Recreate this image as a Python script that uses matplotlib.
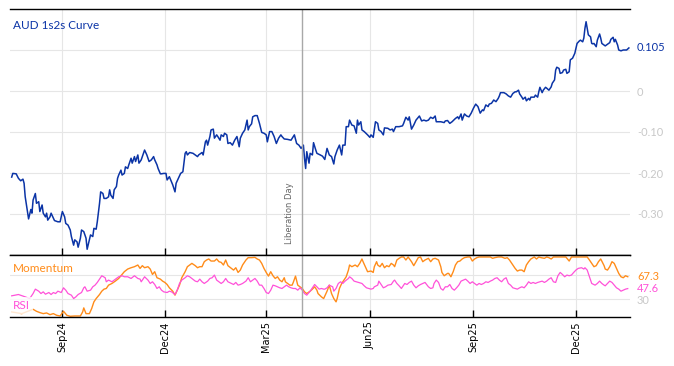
import numpy as np
import pandas as pd
import matplotlib.pyplot as plt
import matplotlib.dates as mdates
import matplotlib.transforms as mtransforms

# all series: day offsets from 2024-07-18 and values
start = pd.Timestamp('2024-07-18')
liberation_day = pd.Timestamp('2025-04-02')

curve_day = [0,1,4,6,8,10,11,12,14,15,17,18,19,21,22,24,25,27,28,30,31,32,34,35,37,38,41,43,45,47,
             48,50,52,53,55,56,58,59,61,62,64,66,67,69,70,72,73,75,76,78,79,81,82,84,86,87,88,90,91,93,
             94,95,97,98,100,101,103,104,106,107,109,110,112,113,115,117,118,120,122,124,126,127,129,130,132,133,135,137,138,140,
             143,145,146,148,150,152,154,155,156,158,161,163,165,166,169,170,172,173,174,176,
             177,179,180,182,183,185,186,188,189,191,192,194,196,198,200,202,203,205,207,209,
             210,211,213,214,216,218,220,222,224,226,227,229,231,233,235,237,239,240,242,245,
             248,251,253,255,257,259,260,261,262,264,265,267,268,270,271,274,276,278,
             280,281,282,284,286,287,289,291,293,294,296,297,299,300,302,304,306,307,308,310,
             311,313,316,318,319,321,323,325,326,328,330,331,334,336,338,339,341,342,344,347,
             348,350,352,353,355,357,359,362,364,366,368,370,372,374,376,377,379,381,384,385,
             387,389,391,394,396,397,399,400,402,404,406,408,410,412,414,415,
             416,418,419,421,423,424,426,428,430,432,433,434,437,439,441,443,445,447,448,450,
             451,453,454,456,457,459,460,461,464,465,467,468,469,471,472,474,475,477,479,480,
             482,483,484,486,487,489,490,492,493,495,496,498,500,501,502,504,505,507,508,509,
             510,511,512,514,515,516,517,519,520,522,523,524,527,528,529,531,532,534,535,536,
             538,539,541,543,546,548]
curve_val = [-0.210,-0.201,-0.202,-0.213,-0.219,-0.215,-0.225,-0.258,-0.294,-0.312,
             -0.289,-0.298,-0.266,-0.250,-0.274,-0.270,-0.294,-0.278,-0.298,-0.307,
             -0.298,-0.315,-0.307,-0.298,-0.310,-0.316,-0.319,-0.319,-0.294,-0.307,
             -0.323,-0.327,-0.339,-0.355,-0.376,-0.363,-0.368,-0.381,-0.359,-0.339,
             -0.343,-0.359,-0.386,-0.363,-0.351,-0.355,-0.335,-0.337,-0.319,-0.274,
             -0.246,-0.250,-0.262,-0.262,-0.258,-0.241,-0.254,-0.262,-0.241,-0.233,
             -0.213,-0.205,-0.193,-0.205,-0.201,-0.185,-0.189,-0.180,-0.164,-0.176,
             -0.160,-0.172,-0.156,-0.176,-0.168,-0.152,-0.144,-0.156,-0.172,-0.168,
             -0.160,-0.168,-0.180,-0.189,-0.202,-0.202,-0.201,-0.201,-0.217,-0.209,
             -0.229,-0.246,-0.225,-0.213,-0.201,-0.197,-0.152,-0.148,-0.156,-0.150,
             -0.152,-0.156,-0.160,-0.156,-0.150,-0.156,-0.124,-0.120,-0.132,-0.111,
             -0.095,-0.093,-0.115,-0.107,-0.111,-0.120,-0.107,-0.111,-0.103,-0.107,
             -0.128,-0.126,-0.132,-0.120,-0.111,-0.136,-0.115,-0.103,-0.095,-0.071,
             -0.095,-0.087,-0.080,-0.063,-0.060,-0.060,-0.079,-0.101,-0.103,-0.107,
             -0.124,-0.099,-0.099,-0.111,-0.128,-0.115,-0.107,-0.111,-0.117,-0.118,
             -0.120,-0.107,-0.128,-0.132,-0.140,-0.132,-0.164,-0.189,-0.148,-0.176,
             -0.152,-0.156,-0.126,-0.144,-0.152,-0.156,-0.159,-0.167,
             -0.140,-0.148,-0.156,-0.160,-0.178,-0.160,-0.144,-0.132,-0.156,-0.132,
             -0.132,-0.087,-0.087,-0.071,-0.083,-0.085,-0.103,-0.071,-0.083,-0.075,
             -0.095,-0.099,-0.107,-0.113,-0.107,-0.113,-0.075,-0.079,-0.095,-0.099,
             -0.107,-0.090,-0.091,-0.095,-0.093,-0.099,-0.087,-0.087,-0.087,-0.085,
             -0.079,-0.064,-0.071,-0.063,-0.093,-0.083,-0.071,-0.061,-0.073,-0.071,
             -0.073,-0.071,-0.064,-0.067,-0.061,-0.075,-0.075,-0.075,-0.077,-0.073,
             -0.072,-0.079,-0.075,-0.067,-0.063,-0.068,-0.056,-0.071,-0.056,-0.061,
             -0.063,-0.054,-0.042,-0.032,-0.038,-0.046,
             -0.054,-0.046,-0.048,-0.034,-0.038,-0.032,-0.030,-0.022,-0.026,-0.018,
             -0.012,-0.004,-0.004,-0.007,-0.012,-0.015,-0.006,-0.002,-0.002,0.002,
             -0.007,-0.015,-0.020,-0.015,-0.024,-0.018,-0.022,-0.015,-0.015,-0.010,
             -0.015,-0.002,0.009,-0.004,0.002,0.009,0.007,0.002,0.010,0.019,
             0.027,0.051,0.058,0.055,0.043,0.045,0.051,0.053,0.043,0.047,
             0.076,0.080,0.092,0.104,0.116,0.122,0.124,0.120,0.129,0.153,
             0.169,0.153,0.137,0.132,0.116,0.115,0.116,0.108,0.124,0.139,
             0.129,0.116,0.110,0.112,0.114,0.118,0.126,0.131,0.120,0.126,
             0.112,0.100,0.098,0.100,0.100,0.105]

mom_day = [0,9,19,22,25,28,31,34,37,40,43,46,49,52,56,61,63,64,66,69,
           71,73,75,78,80,82,84,86,89,92,95,98,100,103,106,109,112,114,116,118,
           121,123,125,127,129,132,134,136,138,140,142,143,145,147,149,151,154,156,158,160,
           163,165,167,169,171,173,175,177,180,182,184,186,188,190,192,195,197,199,201,203,
           205,208,210,213,216,218,220,222,224,226,228,230,232,234,236,238,240,242,243,245,
           247,249,250,252,254,256,258,260,262,265,267,269,271,272,275,277,
           280,282,284,286,288,289,291,293,295,297,299,300,302,305,307,309,311,312,314,316,
           319,321,322,324,325,327,329,331,333,335,337,339,340,342,344,346,348,350,352,355,
           357,359,361,363,365,367,370,372,374,376,379,381,382,384,387,388,390,392,394,396,
           398,400,402,405,407,409,411,413,415,417,420,423,425,427,429,432,433,435,438,440,
           442,444,447,449,451,453,455,457,459,461,464,466,468,470,473,475,477,479,481,484,
           486,489,492,495,497,500,503,506,509,511,513,515,517,519,521,523,526,527,529,531,
           533,535,537,539,541,543,545,547]
mom_val = [8.9,6.1,13.3,10.0,7.8,6.1,7.2,4.4,6.1,3.3,2.2,10.0,3.3,1.7,2.2,2.2,8.9,15.6,6.1,6.1,
           14.4,25.6,31.1,37.8,43.3,46.7,47.8,53.3,56.1,60.0,64.4,71.1,75.6,80.0,82.2,83.9,86.7,81.1,85.6,82.2,
           83.9,80.0,71.1,75.6,65.6,63.3,60.0,57.8,54.4,48.9,45.0,43.3,36.7,45.0,53.3,65.6,75.6,83.9,86.7,89.4,
           85.6,82.2,83.9,83.9,92.2,95.0,96.7,93.3,93.3,96.7,92.2,91.1,86.7,95.0,85.6,81.1,78.3,82.2,74.4,78.3,
           86.7,95.0,98.9,98.9,99.4,96.7,95.0,89.4,81.1,74.4,68.3,75.6,68.9,64.4,67.2,61.7,58.9,65.6,58.9,56.1,
           53.3,53.3,57.8,68.3,53.3,50.6,47.8,42.2,39.4,43.3,46.7,50.6,45.0,39.4,33.9,31.1,
           43.3,53.3,39.4,31.1,25.6,31.1,47.8,56.1,61.7,67.2,78.3,86.7,83.9,86.7,83.9,89.4,96.7,92.2,83.9,75.6,
           76.7,74.4,83.9,92.2,86.7,83.9,89.4,82.2,85.6,83.9,89.4,86.7,83.9,95.0,97.8,100,100,95.0,100,92.2,
           85.6,92.2,98.9,100,92.2,95.0,97.8,92.2,96.7,97.8,95.0,83.9,74.4,68.9,72.8,72.8,67.2,75.6,86.7,92.2,
           93.3,96.7,98.9,100,100,93.3,96.7,98.9,100,100,100,100,100,97.8,98.9,100,100,100,97.8,98.9,
           95.0,89.4,81.1,76.7,78.3,78.3,75.6,86.7,92.2,96.7,100,96.7,100,98.9,97.8,100,98.9,96.7,100,100,
           100,100,100,93.3,100,100,100,100,100,100,95.0,89.4,83.9,85.6,92.2,96.7,85.6,80.0,78.3,83.9,
           92.2,89.4,81.1,72.8,67.2,65.6,68.9,67.3]

rsi_day = [0,6,12,16,19,21,24,26,28,30,33,35,37,39,41,44,46,48,50,53,
           55,57,59,62,64,65,67,70,72,74,76,78,80,83,84,86,89,91,93,95,
           98,100,103,106,109,112,114,115,117,118,121,123,125,127,129,131,133,135,138,140,
           142,144,145,147,149,151,154,156,158,160,163,165,167,169,171,174,176,178,180,182,
           184,186,188,190,192,195,197,199,201,203,205,208,210,212,214,216,218,220,222,224,
           226,228,230,232,234,236,238,240,242,244,246,248,250,252,254,256,258,260,262,265,
           267,269,271,273,275,277,
           278,280,282,285,286,288,290,292,294,296,299,300,302,304,306,308,311,313,315,317,
           319,321,322,325,326,328,330,332,334,337,339,340,342,344,346,348,349,351,353,355,
           357,359,361,363,365,367,370,372,374,375,377,379,381,383,385,387,389,391,393,395,
           397,399,401,403,405,407,409,411,413,415,417,419,421,423,425,427,429,431,433,435,
           437,439,441,443,445,447,449,451,453,455,457,459,461,463,465,467,469,471,473,475,
           477,479,481,483,485,487,489,491,493,495,497,499,501,503,506,508,509,511,513,515,
           518,520,522,524,526,527,529,531,533,535,537,539,541,543,545,547]
rsi_val = [35.6,37.8,33.9,31.1,39.4,46.7,43.3,39.4,42.2,38.3,41.1,37.8,41.1,39.4,43.3,41.1,48.9,45.0,39.4,36.7,
           31.1,33.9,37.8,41.1,48.9,50.6,43.3,45.0,50.6,53.3,57.8,63.3,68.9,65.6,58.9,61.7,58.9,61.7,64.4,67.2,
           68.9,67.2,67.2,64.4,68.9,64.4,63.3,58.9,64.4,67.2,61.7,56.1,58.9,54.4,47.8,50.6,45.0,42.2,41.1,43.3,
           42.2,39.4,37.8,45.0,56.1,61.7,65.6,68.9,67.2,64.4,60.0,58.9,63.3,58.9,56.1,60.0,64.4,65.6,70.0,61.7,
           58.9,56.1,58.9,64.4,58.9,56.1,54.4,57.8,53.3,54.4,56.1,60.0,65.6,58.9,61.7,64.4,60.0,53.3,53.3,47.8,
           41.1,39.4,45.0,53.3,52.2,50.6,48.9,47.8,50.6,53.3,50.6,48.9,47.8,47.8,45.0,48.9,45.0,39.4,36.7,43.3,
           48.9,54.4,50.6,46.7,47.8,46.7,
           46.7,48.9,53.3,50.6,43.3,47.8,56.1,58.9,56.1,60.0,64.4,67.2,64.4,60.0,58.9,57.8,56.1,52.2,48.9,47.8,
           46.7,47.8,50.6,53.3,60.0,54.4,48.9,50.6,53.3,54.4,60.0,61.7,56.1,52.2,47.8,53.3,56.1,54.4,57.8,60.0,
           53.3,48.9,52.2,54.4,56.1,57.8,50.6,47.8,48.9,56.1,61.7,57.8,47.8,45.0,50.6,50.6,54.4,47.8,45.0,48.9,
           53.3,60.0,61.7,63.3,60.0,56.1,58.9,56.1,53.3,56.1,54.4,56.1,58.9,57.8,60.0,61.7,64.4,65.6,61.7,58.9,
           63.3,65.6,56.1,53.3,48.9,47.8,46.7,48.9,50.6,48.9,53.3,58.9,56.1,57.8,56.1,57.8,58.9,60.0,57.8,60.0,
           63.3,65.6,58.9,57.8,68.9,74.4,71.1,67.2,70.0,68.9,70.0,74.4,78.3,81.1,82.2,80.0,82.2,78.3,67.2,56.1,
           53.3,56.1,60.0,56.1,53.3,52.2,56.1,60.0,57.8,53.3,48.9,46.7,43.3,45.0,46.7,47.6]

BLUE = '#0b34a6'
ORANGE = '#ff8c1a'
PINK = '#ff52d9'
GRID = '#e6e6e6'
TICKGREY = '#c8c8c8'

curve_dates = start + pd.to_timedelta(curve_day, unit='D')
mom_dates = start + pd.to_timedelta(mom_day, unit='D')
rsi_dates = start + pd.to_timedelta(rsi_day, unit='D')

fig = plt.figure(figsize=(6.74, 3.66), dpi=100)
ax = fig.add_axes([10/674, 1 - 255/366, 620/674, 246/366])
ax2 = fig.add_axes([10/674, 1 - 317/366, 620/674, 62/366], sharex=ax)

# top panel
ax.plot(curve_dates, curve_val, color=BLUE, lw=1.1)
ax.set_ylim(-0.4, 0.2)
ax.set_xlim(start - pd.Timedelta(days=1.5), start + pd.Timedelta(days=549))
ax.yaxis.tick_right()
ax.set_yticks([-0.3, -0.2, -0.1, 0, 0.1])
ax.set_yticklabels(['-0.30', '-0.20', '-0.10', '0', ''])
ax.tick_params(axis='y', length=0, pad=5, labelcolor=TICKGREY, labelsize=8)
ax.grid(color=GRID, lw=0.8)
ax.set_axisbelow(True)
for lab in ax.get_yticklabels():
    lab.set_fontfamily('Lato')

ax.text(0.005, 0.933, 'AUD 1s2s Curve', transform=ax.transAxes, color=BLUE,
        fontsize=8.5, family='Lato', va='center', ha='left')
tr = mtransforms.blended_transform_factory(ax.transAxes, ax.transData)
ax.text(1.0113, curve_val[-1], f'{curve_val[-1]:.3f}', transform=tr, color=BLUE,
        fontsize=8, family='Lato', va='center', ha='left')

ax.axvline(liberation_day, color='#a8a8a8', lw=1)
ax.annotate('Liberation Day', xy=(liberation_day, -0.372), xytext=(-9, 0),
            textcoords='offset points', rotation=90, ha='center', va='bottom',
            fontsize=6, color='#666666')

# bottom panel
ax2.plot(mom_dates, mom_val, color=ORANGE, lw=1.0)
ax2.plot(rsi_dates, rsi_val, color=PINK, lw=0.9)
ax2.set_ylim(0.5, 103.3)
ax2.yaxis.tick_right()
ax2.set_yticks([30, 70])
ax2.set_yticklabels(['30', ''])
ax2.tick_params(axis='y', length=0, pad=5, labelcolor=TICKGREY, labelsize=8)
ax2.grid(color=GRID, lw=0.8)
ax2.set_axisbelow(True)
for lab in ax2.get_yticklabels():
    lab.set_fontfamily('Lato')
ax2.axvline(liberation_day, color='#a8a8a8', lw=1)

tr2 = mtransforms.blended_transform_factory(ax2.transAxes, ax2.transData)
ax2.text(1.0113, mom_val[-1], f'{mom_val[-1]:.1f}', transform=tr2, color=ORANGE,
         fontsize=8, family='Lato', va='center', ha='left')
ax2.text(1.0113, rsi_val[-1], f'{rsi_val[-1]:.1f}', transform=tr2, color=PINK,
         fontsize=8, family='Lato', va='center', ha='left')
ax2.text(0.005, 0.79, 'Momentum', transform=ax2.transAxes, color=ORANGE,
         fontsize=8.5, family='Lato', va='center', ha='left')
ax2.text(0.005, 0.185, 'RSI', transform=ax2.transAxes, color=PINK,
         fontsize=8.5, family='Lato', va='center', ha='left',
         bbox=dict(facecolor='white', edgecolor='none', alpha=0.8, pad=2))

for a in (ax, ax2):
    a.spines['left'].set_visible(False)
    a.spines['right'].set_visible(False)
    a.spines['top'].set_linewidth(1)
    a.spines['bottom'].set_linewidth(1)
    a.xaxis.set_major_locator(mdates.MonthLocator(bymonth=[3, 6, 9, 12]))
    a.xaxis.set_major_formatter(mdates.DateFormatter('%b%y'))
    a.tick_params(axis='x', direction='in', length=5, width=1)

ax.tick_params(axis='x', labelbottom=False)
ax2.tick_params(axis='x', labelrotation=90, labelsize=7, pad=3)

fig.savefig('out.png', dpi=100)
